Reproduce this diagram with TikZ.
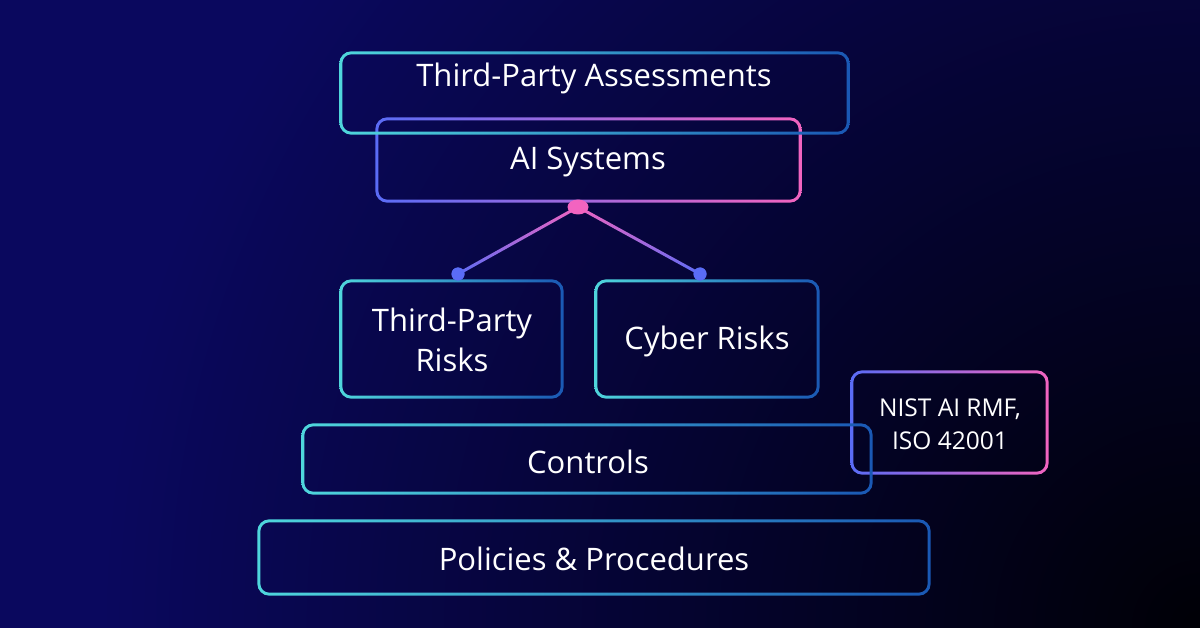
\documentclass[tikz,border=0pt]{standalone}
\usepackage{fontspec}
\setmainfont{Open Sans}
\usetikzlibrary{calc,shapes.geometric}
\definecolor{bgnavy}{HTML}{0A085E}
\definecolor{bgdark}{HTML}{000006}
\definecolor{cyanA}{HTML}{4FD6DC}
\definecolor{blueB}{HTML}{1A58B4}
\definecolor{violetA}{HTML}{5A6CF6}
\definecolor{pinkB}{HTML}{F264C0}
\tikzset{
  frame/.style={rectangle, inner sep=0pt, draw=none},
  lbl/.style={text=white, font=\fontsize{31}{40}\selectfont, align=center, inner sep=0pt},
  smalllbl/.style={text=white, font=\fontsize{24.5}{33}\selectfont, align=center, inner sep=0pt},
  hubdot/.style={ellipse, fill=pinkB, minimum width=21pt, minimum height=15pt, inner sep=0pt},
  enddot/.style={circle, fill=violetA, minimum size=13pt, inner sep=0pt},
}
\newcommand\gradframe[3]{%
  \shade[left color=#2, right color=#3, even odd rule, rounded corners=12pt]
    ($(#1.north west)+(-1.5pt,1.5pt)$) rectangle ($(#1.south east)+(1.5pt,-1.5pt)$)
    [rounded corners=9pt]
    ($(#1.north west)+(1.5pt,-1.5pt)$) rectangle ($(#1.south east)+(-1.5pt,1.5pt)$);}
\newcommand\gradlink[2]{%
  \shade[top color=pinkB, bottom color=violetA]
    ($(#1)!1.5pt!90:(#2)$) -- ($(#1)!1.5pt!-90:(#2)$) --
    ($(#2)!1.5pt!90:(#1)$) -- ($(#2)!1.5pt!-90:(#1)$) -- cycle;}
\begin{document}
\begin{tikzpicture}[x=1pt,y=-1pt]
\useasboundingbox (0,0) rectangle (1200,628);
\fill[bgnavy] (0,0) rectangle (1200,628);
\begin{scope}
  \clip (0,0) rectangle (1200,628);
  \shade[inner color=bgdark, outer color=bgnavy] (1200,628) circle (1100pt);
\end{scope}

% box frames
\node[frame, minimum width=507pt, minimum height=80pt] (tpa) at (594.5,93) {};
\node[frame, minimum width=423pt, minimum height=82pt] (ai) at (588.5,160) {};
\node[frame, minimum width=221pt, minimum height=116pt] (tpr) at (451.5,339) {};
\node[frame, minimum width=222pt, minimum height=116pt] (cr) at (707,339) {};
\node[frame, minimum width=195pt, minimum height=101pt] (nist) at (949.5,422.5) {};
\node[frame, minimum width=568pt, minimum height=68pt] (ctl) at (587,459) {};
\node[frame, minimum width=670pt, minimum height=73pt] (pol) at (594,557.5) {};

\gradframe{ai}{violetA}{pinkB}
\gradframe{tpa}{cyanA}{blueB}
\gradframe{tpr}{cyanA}{blueB}
\gradframe{cr}{cyanA}{blueB}
\gradframe{nist}{violetA}{pinkB}
\gradframe{ctl}{cyanA}{blueB}
\gradframe{pol}{cyanA}{blueB}

% connectors
\node[enddot] (d1) at (458,274) {};
\node[enddot] (d2) at (700,274) {};
\coordinate (hubc) at (578,207);
\gradlink{hubc}{d1}
\gradlink{hubc}{d2}
\node[enddot] at (d1) {};
\node[enddot] at (d2) {};
\node[hubdot] (hub) at (hubc) {};

% labels
\node[lbl] (tpa-t) at (594,78) {Third-Party Assessments};
\node[lbl] (ai-t) at (588,162) {AI Systems};
\node[lbl] (tpr-t) at (452,340) {Third-Party\\Risks};
\node[lbl] (cr-t) at (707,341) {Cyber Risks};
\node[smalllbl] (nist-t) at (950,424) {NIST AI RMF,\\ISO 42001};
\node[lbl] (ctl-t) at (588,462) {Controls};
\node[lbl] (pol-t) at (594,559) {Policies \& Procedures};
\end{tikzpicture}
\end{document}
